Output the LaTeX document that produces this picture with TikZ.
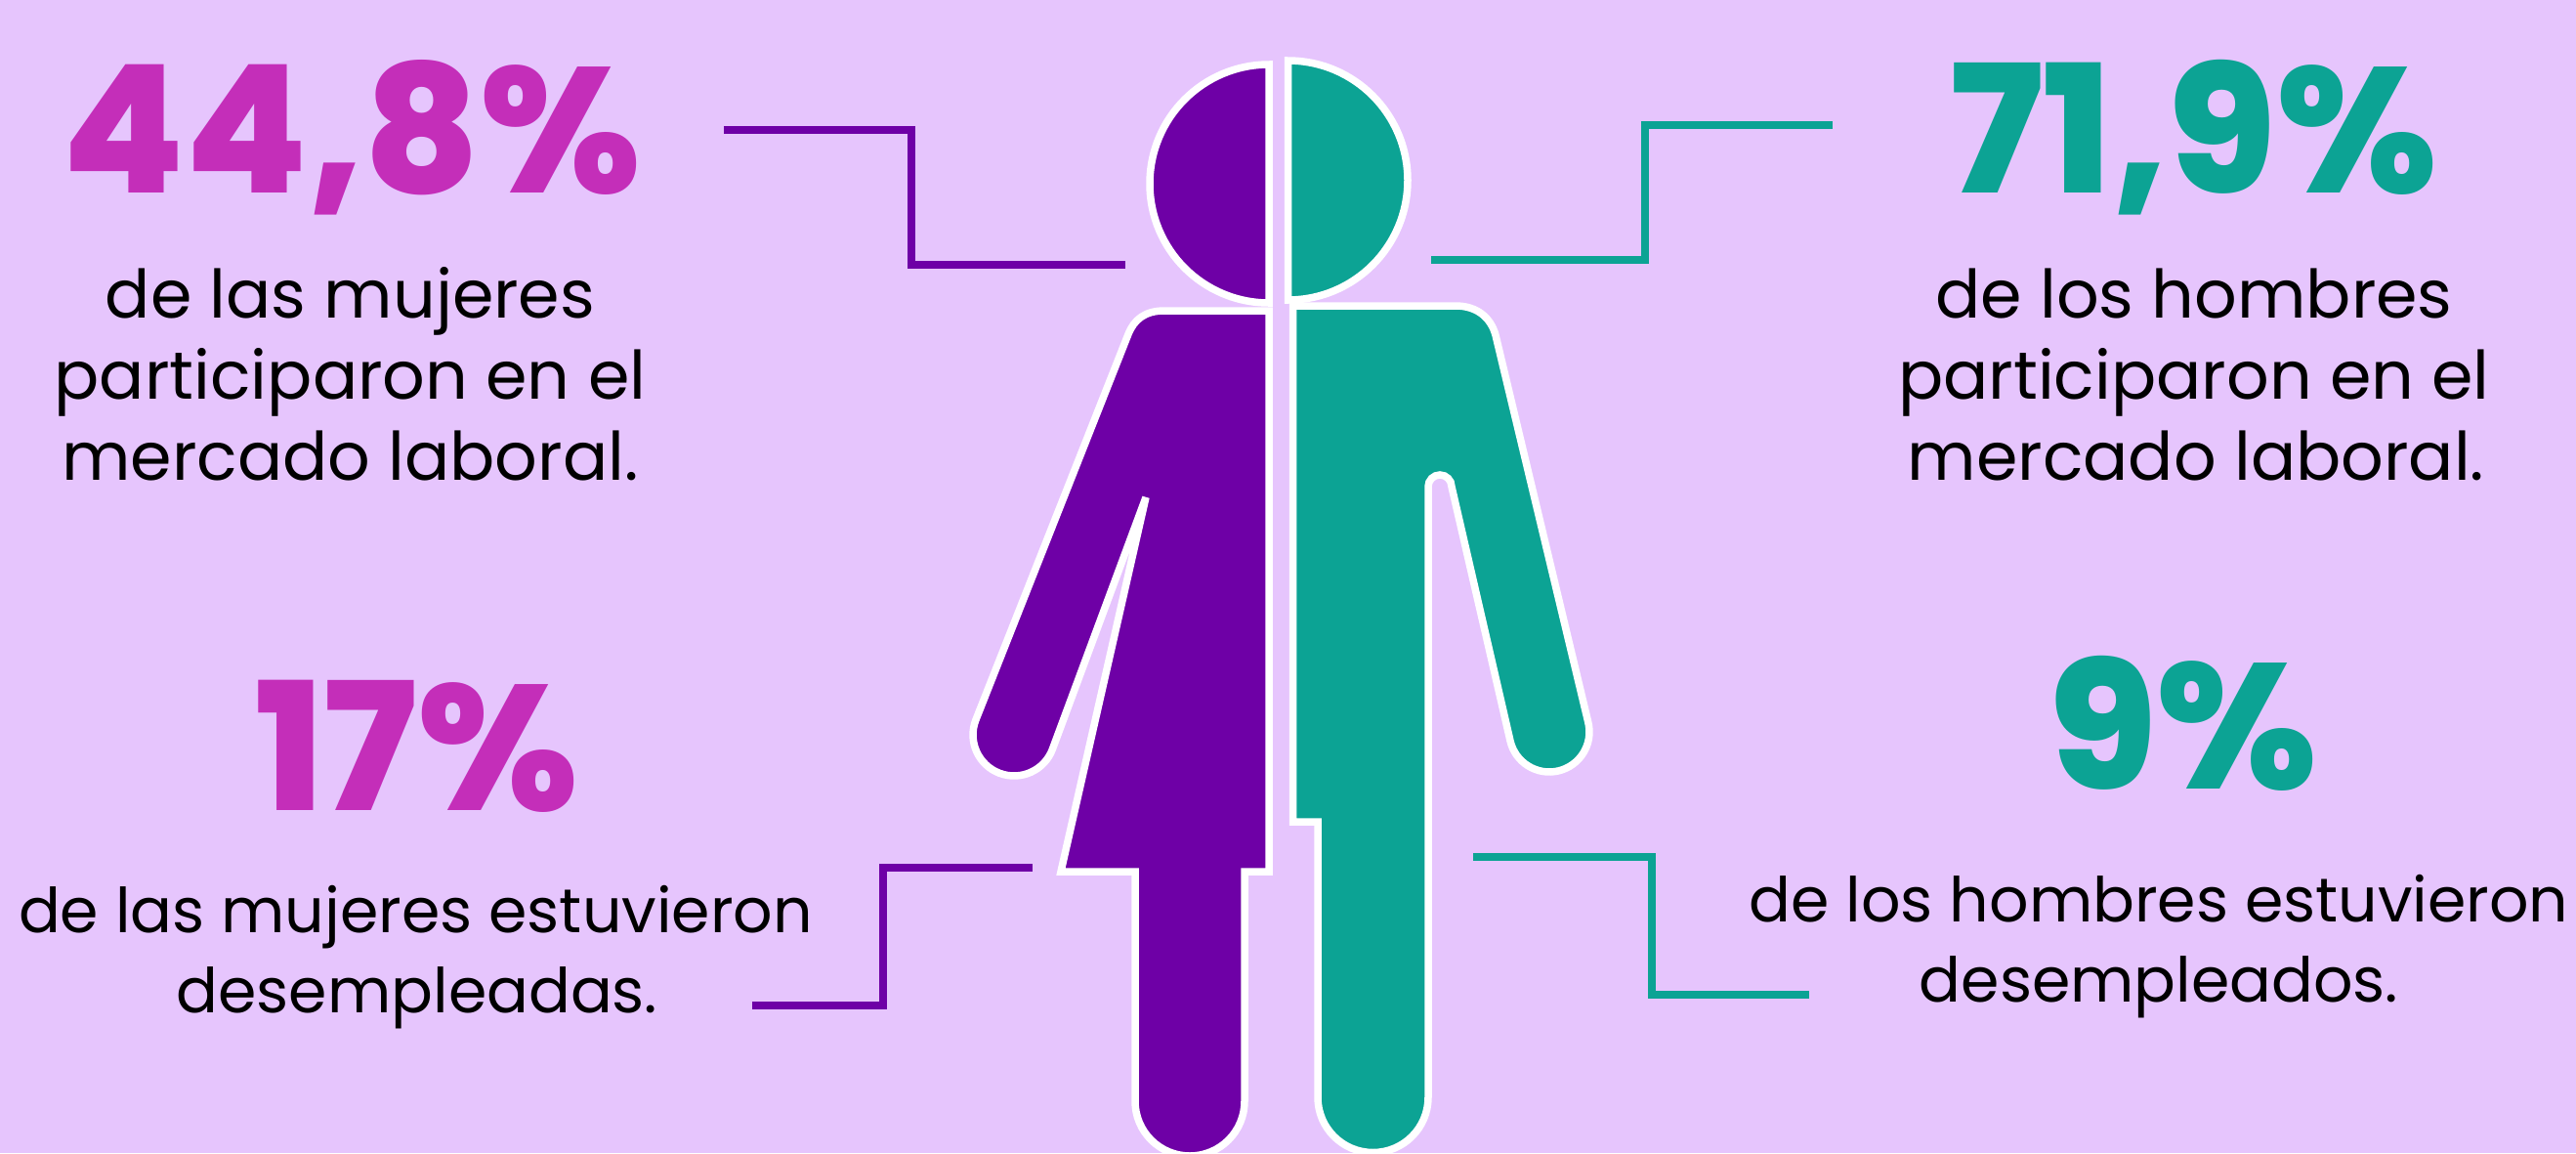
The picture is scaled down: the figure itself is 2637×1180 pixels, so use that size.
\documentclass[tikz,border=0pt]{standalone}
\usepackage{fontspec}
\setmainfont{Poppins}
\newfontfamily\numfont{Poppins ExtraBold}
\definecolor{bg}{HTML}{E6C5FD}
\definecolor{wpurple}{HTML}{6E00A6}
\definecolor{mteal}{HTML}{0CA394}
\definecolor{mag}{HTML}{C42EB9}
\tikzset{
  num/.style={font=\numfont\fontsize{45.6}{45.6}\selectfont, anchor=base, inner sep=0pt},
  body/.style={font=\fontsize{17.1}{20}\selectfont, anchor=base, inner sep=0pt, text=black},
  smallbody/.style={font=\fontsize{15.85}{19}\selectfont, anchor=base, inner sep=0pt, text=black},
  link/.style={line width=2pt},
  figure/.style={draw=white, line width=1.875pt},
}
\begin{document}
\begin{tikzpicture}[x=0.25pt,y=-0.25pt]
\useasboundingbox (0,0) rectangle (2637,1180);
\fill[bg] (0,0) rectangle (2637,1180);

% ---- woman ----
\path[figure, fill=wpurple]
  (1299,318) -- (1299,892) -- (1274,892) -- (1274,1127)
  arc[start angle=0, end angle=180, radius=56]
  -- (1162,892) -- (1086,892) -- (1173,509) -- (1077.3,766.9)
  arc[start angle=20.8, end angle=200.8, radius=42]
  -- (1155,342) .. controls (1161,327) and (1172,318) .. (1192,318) -- cycle;
\path[figure, fill=wpurple]
  (1299,66) arc[start angle=-90, end angle=-270, radius=122] -- cycle;

% ---- man ----
\path[figure, fill=mteal]
  (1323.5,313) -- (1490,313) .. controls (1512,313) and (1526,325) .. (1531,343)
  -- (1625.9,739.7)
  arc[start angle=-13.1, end angle=166.9, radius=41]
  -- (1486,498)
  arc[start angle=0, end angle=-180, radius=12]
  -- (1462,1123)
  arc[start angle=0, end angle=180, radius=56.5]
  -- (1349,841) -- (1323.5,841) -- cycle;
\path[figure, fill=mteal]
  (1318.5,62) arc[start angle=-90, end angle=90, radius=122.5] -- cycle;

% ---- texts ----
\node[num, text=mag] (n1) at (360,197.5) {44,8\%};
\node[body] (t1a) at (358.5,325.5) {de las mujeres};
\node[body] (t1b) at (358.5,408) {participaron en el};
\node[body] (t1c) at (358.5,491) {mercado laboral.};

\node[num, text=mteal] (n2) at (2245.7,197.5) {71,9\%};
\node[body] (t2a) at (2246,325.5) {de los hombres};
\node[body] (t2b) at (2246,408) {participaron en el};
\node[body] (t2c) at (2248,491) {mercado laboral.};

\node[num, text=mag] (n3) at (426.5,829.6) {17\%};
\node[smallbody] (t3a) at (425.5,954) {de las mujeres estuvieron};
\node[smallbody] (t3b) at (427,1036) {desempleadas.};

\node[num, text=mteal] (n4) at (2235,807) {9\%};
\node[smallbody] (t4a) at (2210,943) {de los hombres estuvieron};
\node[smallbody] (t4b) at (2210,1025) {desempleados.};

% ---- connectors ----
\coordinate (c1s) at (741,133.3);
\coordinate (c1m) at (933,200);
\coordinate (c1e) at (1151.7,271.3);
\draw[link, draw=wpurple] (c1s) -| (c1m) |- (c1e);

\coordinate (c2s) at (1465,266);
\coordinate (c2m) at (1683.5,200);
\coordinate (c2e) at (1876,128);
\draw[link, draw=mteal] (c2s) -| (c2m) |- (c2e);

\coordinate (c3s) at (1057,887.5);
\coordinate (c3m) at (904,950);
\coordinate (c3e) at (769.6,1028.6);
\draw[link, draw=wpurple] (c3s) -| (c3m) |- (c3e);

\coordinate (c4s) at (1508,876.6);
\coordinate (c4m) at (1690.7,950);
\coordinate (c4e) at (1852,1018);
\draw[link, draw=mteal] (c4s) -| (c4m) |- (c4e);
\end{tikzpicture}
\end{document}
